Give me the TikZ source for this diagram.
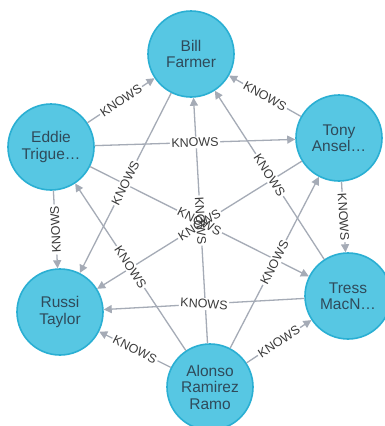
\documentclass[tikz,border=0pt]{standalone}
\usepackage{fontspec}
\setmainfont{Liberation Sans}
\usetikzlibrary{arrows.meta}
\definecolor{nfill}{HTML}{57C7E3}
\definecolor{nstroke}{HTML}{2AAFD3}
\definecolor{ntext}{HTML}{2F4A5A}
\definecolor{edgec}{HTML}{A5ABB6}
\definecolor{ltext}{HTML}{3A3A3A}
\begin{document}
\begin{tikzpicture}[x=1pt,y=-1pt,
  person/.style={circle, minimum size=86pt, inner sep=0pt, fill=nfill, draw=nstroke,
    line width=1.6pt, text=ntext, align=center, font=\fontsize{15.5}{16.5}\selectfont},
  rel/.style={draw=edgec, line width=1.3pt, -{Triangle[length=8pt,width=8pt]}},
  lblbg/.style={fill=white, inner sep=1.5pt, text=white, font=\fontsize{12.5}{13}\selectfont},
  lbl/.style={inner sep=1.5pt, text=ltext, font=\fontsize{12.5}{13}\selectfont}]
\useasboundingbox (0,0) rectangle (385,426);
\clip (0,0) rectangle (385,426);
\fill[white] (0,0) rectangle (385,426);
\node[person] (B) at (191,54) {Bill\\Farmer};
\node[person] (E) at (51,147) {Eddie\\Trigue…};
\node[person] (T) at (339,138) {Tony\\Ansel…};
\node[person] (R) at (60,312) {Russi\\Taylor};
\node[person] (S) at (348,296) {Tress\\MacN…};
\node[person] (A) at (210,387) {Alonso\\Ramirez\\Ramo};
\foreach \s/\t/\ang in {E/B/33.8, T/B/-29.6, E/T/1.8, E/R/92.8, T/S/-86.4, S/R/-3.2,
  A/R/-26.9, A/S/33.5, B/R/63.1, A/E/-56.7, A/B/-86.7, S/B/-56.9, A/T/62.7,
  E/S/-26.6, T/R/31.9} {
  \draw[rel] (\s) -- (\t);
}
\foreach \s/\t/\ang [count=\i] in {E/B/33.8, T/B/-29.6, E/T/1.8, E/R/92.8, T/S/-86.4, S/R/-3.2,
  A/R/-26.9, A/S/33.5, B/R/63.1, A/E/-56.7, A/B/-86.7, S/B/-56.9, A/T/62.7,
  E/S/-26.6, T/R/31.9} {
  \path (\s) -- (\t) node[midway, lblbg, rotate=\ang] (bg\i) {KNOWS};
}
\foreach \s/\t/\ang [count=\i] in {E/B/33.8, T/B/-29.6, E/T/1.8, E/R/92.8, T/S/-86.4, S/R/-3.2,
  A/R/-26.9, A/S/33.5, B/R/63.1, A/E/-56.7, A/B/-86.7, S/B/-56.9, A/T/62.7,
  E/S/-26.6, T/R/31.9} {
  \path (\s) -- (\t) node[midway, lbl, rotate=\ang] (lb\i) {KNOWS};
}
\end{tikzpicture}
\end{document}
